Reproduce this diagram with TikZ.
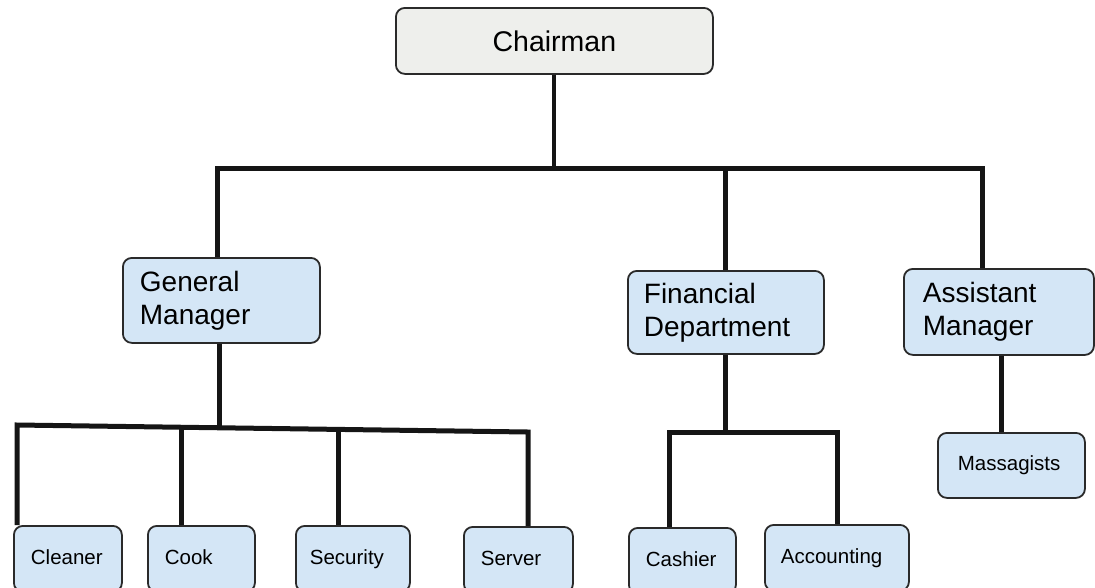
\documentclass[tikz,border=0pt]{standalone}
\usepackage{fontspec}
\setmainfont{Liberation Sans}
\definecolor{boxblue}{HTML}{D4E6F6}
\definecolor{boxgray}{HTML}{EEEFEC}
\definecolor{edgecol}{HTML}{2A2A2A}
\definecolor{linecol}{HTML}{151515}
\begin{document}
\begin{tikzpicture}[x=1pt,y=-1pt,
  box/.style={draw=edgecol, line width=1.8pt, rounded corners=9pt, fill=boxblue,
              anchor=north west, inner ysep=0pt, align=left},
  bigtext/.style={font=\fontsize{28}{33}\selectfont},
  smalltext/.style={font=\fontsize{20.5}{24}\selectfont, text height=15pt, text depth=4pt},
  link/.style={draw=linecol, line width=5pt},
  thinlink/.style={draw=linecol, line width=4pt}]
\useasboundingbox (0,0) rectangle (1095,587);
\clip (0,0) rectangle (1095,587);

% top level
\node[box, fill=boxgray, align=center, minimum width=317pt, minimum height=66pt,
      font=\fontsize{28.5}{33}\selectfont] (chair) at (395,7) {Chairman};

% second level
\node[box, bigtext, minimum width=197pt, minimum height=85pt, inner xsep=17pt, text width=163pt]
  (gm) at (122,257) {General\\Manager};
\node[box, bigtext, minimum width=196pt, minimum height=83pt, inner xsep=16pt, text width=164pt]
  (fd) at (627,270) {Financial\\Department};
\node[box, bigtext, minimum width=190pt, minimum height=86pt, inner xsep=19pt, text width=152pt]
  (am) at (903,268) {Assistant\\Manager};

% third level
\node[box, smalltext, minimum width=108pt, minimum height=66pt, inner xsep=17pt, text width=74pt]
  (cleaner) at (13,525) {Cleaner};
\node[box, smalltext, minimum width=107pt, minimum height=66pt, inner xsep=17pt, text width=73pt]
  (cook) at (147,525) {Cook};
\node[box, smalltext, minimum width=114pt, minimum height=66pt, inner xsep=14pt, text width=86pt]
  (security) at (295,525) {Security};
\node[box, smalltext, minimum width=109pt, minimum height=66pt, inner xsep=17pt, text width=75pt]
  (server) at (463,526) {Server};
\node[box, smalltext, minimum width=107pt, minimum height=66pt, inner xsep=17pt, text width=73pt]
  (cashier) at (628,527) {Cashier};
\node[box, smalltext, minimum width=144pt, minimum height=66pt, inner xsep=16pt, text width=112pt]
  (accounting) at (764,524) {Accounting};
\node[box, smalltext, minimum width=147pt, minimum height=65pt, inner xsep=20pt, text width=107pt]
  (massagists) at (937,432) {Massagists};

% top bus
\coordinate (tL) at (217,168);
\coordinate (tR) at (982,168);
\draw[thinlink] (chair.south) -- (chair.south |- tL);
\draw[link] (gm.north -| tL) -- (tL) -- (tR) -- (am.north -| tR);
\draw[link] (fd.north) -- (fd.north |- tL);

% general manager bus
\coordinate (gL) at (17,425);
\coordinate (gR) at (528,432);
\coordinate (gM) at (219,427.8);
\coordinate (g2) at (181,427.2);
\coordinate (g3) at (338,429.4);
\draw[link] (gm.south -| gM) -- (gM);
\draw[link] (cleaner.north -| gL) -- (gL) -- (gR) -- (server.north -| gR);
\draw[link] (g2) -- (cook.north -| g2);
\draw[link] (g3) -- (security.north -| g3);

% financial department bus
\coordinate (fL) at (669,432);
\coordinate (fR) at (837,432);
\coordinate (fM) at (725,432);
\draw[link] (fd.south -| fM) -- (fM);
\draw[link] (cashier.north -| fL) -- (fL) -- (fR) -- (accounting.north -| fR);

% assistant manager
\coordinate (mx) at (1001,400);
\draw[link] (am.south -| mx) -- (massagists.north -| mx);
\end{tikzpicture}
\end{document}
